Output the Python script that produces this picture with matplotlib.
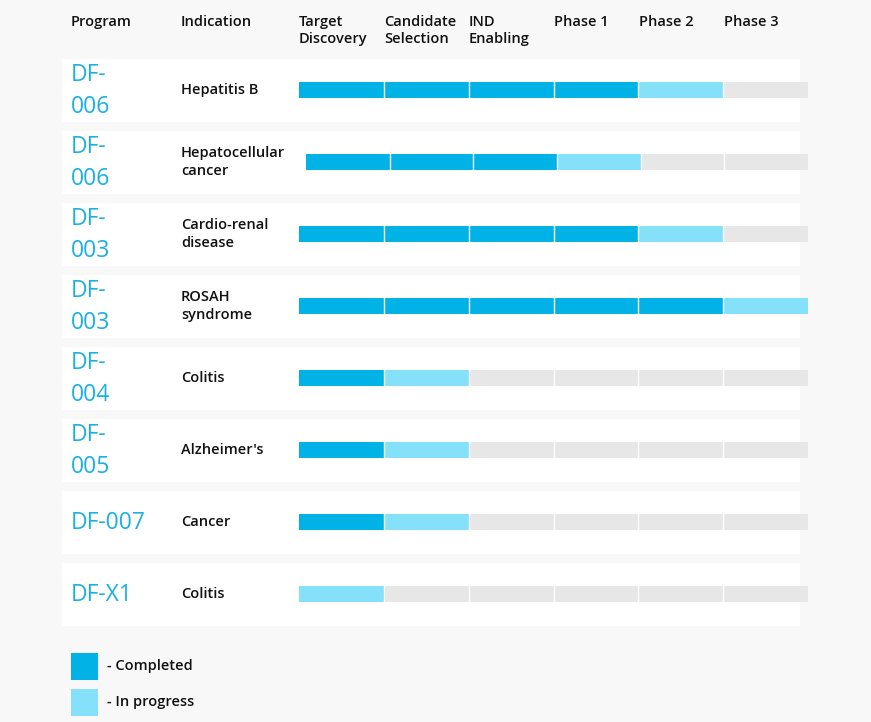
import matplotlib.pyplot as plt
from matplotlib.patches import Rectangle

plt.rcParams['font.family'] = ['Open Sans', 'DejaVu Sans']

BLUE = '#00b2e6'
LIGHT = '#85e0fa'
EMPTY = '#e7e7e7'
BG = '#f8f8f8'

stages = ['Target\nDiscovery', 'Candidate\nSelection', 'IND\nEnabling', 'Phase 1', 'Phase 2', 'Phase 3']
programs = ['DF-\n006', 'DF-\n006', 'DF-\n003', 'DF-\n003', 'DF-\n004', 'DF-\n005', 'DF-007', 'DF-X1']
indications = ['Hepatitis B', 'Hepatocellular\ncancer', 'Cardio-renal\ndisease', 'ROSAH\nsyndrome',
               'Colitis', "Alzheimer's", 'Cancer', 'Colitis']
completed = [4, 3, 4, 5, 1, 1, 1, 0]
in_progress = [1, 1, 1, 1, 1, 1, 1, 1]

fig = plt.figure(figsize=(8.71, 7.22), dpi=100, facecolor=BG)
ax = fig.add_axes([0, 0, 1, 1])
ax.set_xlim(0, 871)
ax.set_ylim(722, 0)
ax.axis('off')
ax.set_facecolor(BG)

hdr = dict(fontsize=10.5, color='#111111', va='top', fontweight='semibold', linespacing=1.3)
ax.text(71, 15, 'Program', **hdr)
ax.text(181, 15, 'Indication', **hdr)
stage_x = [299, 384, 469, 554, 639, 724]
for sx, s in zip(stage_x, stages):
    ax.text(sx, 15, s, **hdr)

for i, (p, ind, c, ip) in enumerate(zip(programs, indications, completed, in_progress)):
    top = 59 + 72 * i
    ax.add_patch(Rectangle((62, top), 738, 63, color='white', lw=0))
    cy = top + 31
    ax.text(71, cy + 1, p, fontsize=16.5, color='#1ab0e0', va='center', linespacing=1.4)
    ax.text(181, cy, ind, fontsize=10.5, color='#111111', va='center', fontweight='semibold',
            linespacing=1.3)
    x0 = 306 if i == 1 else 299
    w = (808 - x0) / 6
    for k in range(6):
        col = BLUE if k < c else (LIGHT if k < c + ip else EMPTY)
        ax.add_patch(Rectangle((x0 + k * w, cy - 8), w, 16, color=col, lw=0))
        if k > 0:
            ax.plot([x0 + k * w] * 2, [cy - 8, cy + 8], color='white', lw=1)

ax.add_patch(Rectangle((71, 653), 27, 27, color=BLUE, lw=0))
ax.text(107, 666, '- Completed', fontsize=10.5, color='#111111', va='center', fontweight='semibold')
ax.add_patch(Rectangle((71, 689), 27, 27, color=LIGHT, lw=0))
ax.text(107, 702, '- In progress', fontsize=10.5, color='#111111', va='center', fontweight='semibold')

fig.savefig('out.png', dpi=100, facecolor=BG)
